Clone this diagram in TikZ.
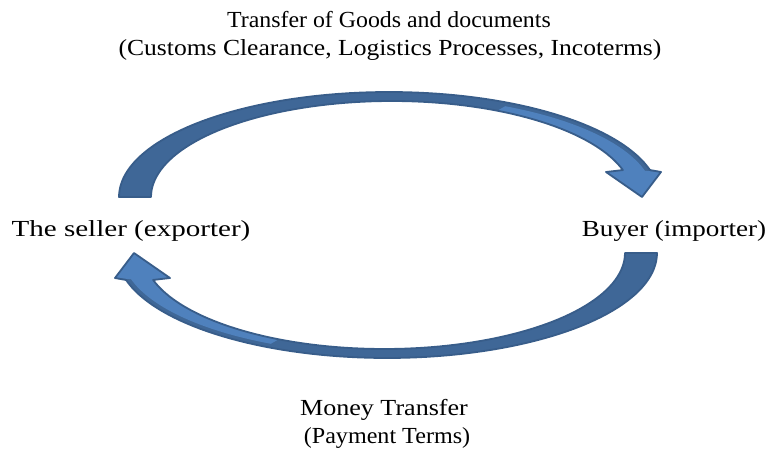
\documentclass[tikz,border=0pt]{standalone}
\usepackage{fontspec}
\usepackage{graphicx}
\setmainfont{Liberation Serif}[FakeStretch=1.08]
\definecolor{arrowfront}{HTML}{4F81BD}
\definecolor{arrowback}{HTML}{3F6797}
\definecolor{arrowline}{HTML}{385D8A}
\tikzset{
  lbl/.style={inner sep=0pt, font=\fontsize{23}{28}\selectfont, text=black},
  arrowedge/.style={draw=arrowline, line width=1.8pt, line join=round},
}
\newcommand{\hs}[2]{\scalebox{#1}[1]{#2}}
% outline of one curved arrow (pixel coordinates, y downwards)
\def\ArrowOutline{plot[domain=180:14.9, samples=80, variable=\t] ({389+270*cos(\t)},{197-105*sin(\t)})
  -- (661,172) -- (642,197) -- (606,172)
  -- plot[domain=16.3:180, samples=80, variable=\t] ({391.8+240.8*cos(\t)},{197-96*sin(\t)}) -- cycle}
\def\ArrowFront{plot[domain=64:16.3, samples=60, variable=\t] ({391.8+240.8*cos(\t)},{197-96*sin(\t)})
  -- (606,172) -- (642,197) -- (661,172)
  -- plot[domain=15:64, samples=60, variable=\t] ({389+265*cos(\t)},{197-101*sin(\t)}) -- cycle}
\begin{document}
\begin{tikzpicture}[x=1pt,y=-1pt]
\useasboundingbox (0,0) rectangle (766,457);
% upper arrow: goods
\fill[arrowback] \ArrowOutline;
\fill[arrowfront] \ArrowFront;
\path[arrowedge] \ArrowOutline;
% lower arrow: money (point reflection of the upper one)
\begin{scope}[rotate around={180:(388,225)}]
\fill[arrowback] \ArrowOutline;
\fill[arrowfront] \ArrowFront;
\path[arrowedge] \ArrowOutline;
\end{scope}
\node[lbl] (goods) at (389,20) {\hs{0.96}{Transfer of Goods and documents}};
\node[lbl] (goodsdetail) at (390,50) {\hs{1.03}{(Customs Clearance, Logistics Processes, Incoterms)}};
\node[lbl] (seller) at (131,231) {\hs{1.17}{The seller (exporter)}};
\node[lbl] (buyer) at (674,231) {\hs{1.09}{Buyer (importer)}};
\node[lbl] (money) at (384,410) {\hs{1.05}{Money Transfer}};
\node[lbl] (terms) at (387,438) {\hs{0.97}{(Payment Terms)}};
\end{tikzpicture}
\end{document}
